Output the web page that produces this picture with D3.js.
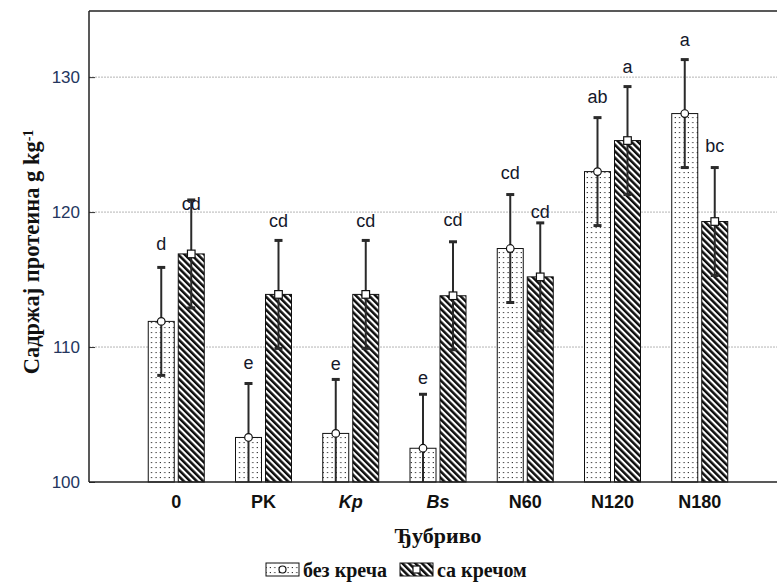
<!DOCTYPE html>
<html>
<head>
<meta charset="utf-8">
<script src="https://cdn.jsdelivr.net/npm/d3@7"></script>
<style>
  html, body { margin: 0; padding: 0; background: #fff; }
  svg { display: block; }
</style>
</head>
<body>
<svg id="chart" width="777" height="583"></svg>
<script>
// Fertilizer treatments on the x axis
const categories = ["0", "PK", "Kp", "Bs", "N60", "N120", "N180"];
const italicCats = ["Kp", "Bs"];
// Mean protein content, g kg-1
const withoutLime = [111.9, 103.3, 103.6, 102.5, 117.3, 123.0, 127.3];
const withLime    = [116.9, 113.9, 113.9, 113.8, 115.2, 125.3, 119.3];
// Half-length of the error bars
const errWithout  = [4.0, 4.0, 4.0, 4.0, 4.0, 4.0, 4.0];
const errWith     = [4.0, 4.0, 4.0, 4.0, 4.0, 4.0, 4.0];
// Significance letters
const lettersWithout = ["d", "e", "e", "e", "cd", "ab", "a"];
const lettersWith    = ["cd", "cd", "cd", "cd", "cd", "a", "bc"];
const yTicks = [100, 110, 120, 130];
const seriesNames = ["без креча", "са кречом"];

// Letter lift above the error cap (px), per treatment
const liftWithout = [24, 21, 16, 17, 22, 21, 20];
const liftWith    = [-4, 20, 20, 22, 11, 20, 22];

const svg = d3.select("#chart");
const plot = { left: 89, right: 787, top: 11, bottom: 482 };

const x = d3.scalePoint().domain(categories).range([plot.left, plot.right]).padding(1);
const y = d3.scaleLinear().domain([100, 134.9]).range([plot.bottom, plot.top]);

const barW = 26, off = 15;

// Fill patterns
const defs = svg.append("defs");
const dots = defs.append("pattern").attr("id", "dots").attr("patternUnits", "userSpaceOnUse")
  .attr("width", 4.4).attr("height", 5);
dots.append("rect").attr("width", 4.4).attr("height", 5).attr("fill", "#fff");
dots.append("rect").attr("x", 1.5).attr("y", 2).attr("width", 1.1).attr("height", 1.1).attr("fill", "#1a1a1a");

const hatch = defs.append("pattern").attr("id", "hatch").attr("patternUnits", "userSpaceOnUse")
  .attr("width", 4.6).attr("height", 4.6).attr("patternTransform", "rotate(-45)");
hatch.append("rect").attr("width", 4.6).attr("height", 4.6).attr("fill", "#fff");
hatch.append("rect").attr("x", 0).attr("y", 0).attr("width", 2.5).attr("height", 4.6).attr("fill", "#0d0d0d");

// Plot-area clip for the whiskers
defs.append("clipPath").attr("id", "plotClip").append("rect")
  .attr("x", plot.left).attr("y", 0).attr("width", plot.right - plot.left).attr("height", plot.bottom);

// Grid lines
svg.append("g").selectAll("line").data(yTicks.filter(t => t > 100)).join("line")
  .attr("x1", plot.left).attr("x2", plot.right)
  .attr("y1", d => y(d)).attr("y2", d => y(d))
  .attr("stroke", "#b5b5b5").attr("stroke-width", 1).attr("stroke-dasharray", "2,1");

// Y axis
const yAxis = svg.append("g").attr("transform", `translate(${plot.left},0)`)
  .call(d3.axisLeft(y).tickValues(yTicks).tickSizeInner(-6).tickSizeOuter(0).tickPadding(9));
yAxis.select(".domain").remove();
yAxis.selectAll(".tick line").attr("stroke", "#333").attr("stroke-width", 1);
yAxis.selectAll(".tick text").attr("font-family", "Arial, 'Liberation Sans', sans-serif")
  .attr("font-size", 17).attr("fill", "#24365e");

// Frame
svg.append("line").attr("x1", plot.left).attr("x2", plot.left).attr("y1", plot.top).attr("y2", plot.bottom)
  .attr("stroke", "#222").attr("stroke-width", 1.5);
svg.append("line").attr("x1", plot.left).attr("x2", plot.right).attr("y1", plot.top).attr("y2", plot.top)
  .attr("stroke", "#222").attr("stroke-width", 1.5);

// Build series records
const series = [
  { vals: withoutLime, errs: errWithout, letters: lettersWithout, lift: liftWithout, dx: -off, fill: "url(#dots)", marker: "circle" },
  { vals: withLime, errs: errWith, letters: lettersWith, lift: liftWith, dx: off, fill: "url(#hatch)", marker: "square" }
];

series.forEach(s => {
  const rows = categories.map((c, i) => ({ c, v: s.vals[i], e: s.errs[i], l: s.letters[i], lift: s.lift[i] }));
  const g = svg.append("g");
  // bars
  g.selectAll("rect.bar").data(rows).join("rect").attr("class", "bar")
    .attr("x", d => x(d.c) + s.dx - barW / 2).attr("width", barW)
    .attr("y", d => y(d.v)).attr("height", d => y(100) - y(d.v))
    .attr("fill", s.fill).attr("stroke", "#111").attr("stroke-width", 1);
  // error bars
  const eg = g.append("g").attr("clip-path", "url(#plotClip)");
  eg.selectAll("line.err").data(rows).join("line").attr("class", "err")
    .attr("x1", d => x(d.c) + s.dx).attr("x2", d => x(d.c) + s.dx)
    .attr("y1", d => y(d.v - d.e)).attr("y2", d => y(d.v + d.e))
    .attr("stroke", "#2a2a2a").attr("stroke-width", 2);
  eg.selectAll("line.capT").data(rows).join("line").attr("class", "capT")
    .attr("x1", d => x(d.c) + s.dx - 4).attr("x2", d => x(d.c) + s.dx + 4)
    .attr("y1", d => y(d.v + d.e)).attr("y2", d => y(d.v + d.e))
    .attr("stroke", "#2a2a2a").attr("stroke-width", 3);
  eg.selectAll("line.capB").data(rows).join("line").attr("class", "capB")
    .attr("x1", d => x(d.c) + s.dx - 4).attr("x2", d => x(d.c) + s.dx + 4)
    .attr("y1", d => y(d.v - d.e)).attr("y2", d => y(d.v - d.e))
    .attr("stroke", "#2a2a2a").attr("stroke-width", 3);
  // markers
  if (s.marker === "circle") {
    g.selectAll("circle").data(rows).join("circle")
      .attr("cx", d => x(d.c) + s.dx).attr("cy", d => y(d.v)).attr("r", 3.8)
      .attr("fill", "#fff").attr("stroke", "#111").attr("stroke-width", 1.2);
  } else {
    g.selectAll("rect.mk").data(rows).join("rect").attr("class", "mk")
      .attr("x", d => x(d.c) + s.dx - 3.8).attr("y", d => y(d.v) - 3.8)
      .attr("width", 7.6).attr("height", 7.6)
      .attr("fill", "#fff").attr("stroke", "#111").attr("stroke-width", 1.2);
  }
  // letters
  g.selectAll("text").data(rows).join("text")
    .attr("x", d => x(d.c) + s.dx).attr("y", d => y(d.v + d.e) - d.lift)
    .attr("dy", "0.35em").attr("text-anchor", "middle")
    .attr("font-family", "Arial, 'Liberation Sans', sans-serif").attr("font-size", 18)
    .attr("fill", "#14182a").text(d => d.l);
});

// X axis baseline
svg.append("line").attr("x1", plot.left).attr("x2", plot.right).attr("y1", plot.bottom).attr("y2", plot.bottom)
  .attr("stroke", "#222").attr("stroke-width", 1.5);

// X tick labels
svg.append("g").selectAll("text").data(categories).join("text")
  .attr("x", d => x(d)).attr("y", 502).attr("dy", "0.35em").attr("text-anchor", "middle")
  .attr("font-family", "Arial, 'Liberation Sans', sans-serif").attr("font-size", 18)
  .attr("font-weight", "bold").attr("font-style", d => italicCats.includes(d) ? "italic" : "normal")
  .attr("fill", "#111").text(d => d);

// Axis titles
svg.append("text").attr("x", (plot.left + plot.right) / 2).attr("y", 535).attr("dy", "0.35em")
  .attr("text-anchor", "middle").attr("font-family", "'Liberation Serif', 'Times New Roman', serif")
  .attr("font-size", 22).attr("font-weight", "bold").attr("fill", "#111").text("Ђубриво");

const yt = svg.append("text").attr("transform", "translate(31,252) rotate(-90)")
  .attr("text-anchor", "middle").attr("dy", "0.35em")
  .attr("font-family", "'Liberation Serif', 'Times New Roman', serif")
  .attr("font-size", 22.5).attr("font-weight", "bold").attr("fill", "#111");
yt.append("tspan").text("Садржај протеина g kg");
yt.append("tspan").attr("dy", "-0.45em").attr("font-size", 14).text("-1");

// Legend
const legend = svg.append("g");
const legItems = [
  { name: seriesNames[0], fill: "url(#dots)", marker: "circle", bx: 266, tx: 303 },
  { name: seriesNames[1], fill: "url(#hatch)", marker: "square", bx: 400, tx: 437 }
];
legItems.forEach(it => {
  legend.append("rect").attr("x", it.bx).attr("y", 563).attr("width", 33).attr("height", 13)
    .attr("fill", it.fill).attr("stroke", "#111").attr("stroke-width", 1);
  if (it.marker === "circle") {
    legend.append("circle").attr("cx", it.bx + 16.5).attr("cy", 569.5).attr("r", 3.5)
      .attr("fill", "#fff").attr("stroke", "#111").attr("stroke-width", 1.2);
  } else {
    legend.append("rect").attr("x", it.bx + 13).attr("y", 566).attr("width", 7).attr("height", 7)
      .attr("fill", "#fff").attr("stroke", "#111").attr("stroke-width", 1.2);
  }
  legend.append("text").attr("x", it.tx).attr("y", 570).attr("dy", "0.35em")
    .attr("font-family", "'Liberation Serif', 'Times New Roman', serif")
    .attr("font-size", 20).attr("font-weight", "bold").attr("fill", "#111").text(it.name);
});
</script>
</body>
</html>
